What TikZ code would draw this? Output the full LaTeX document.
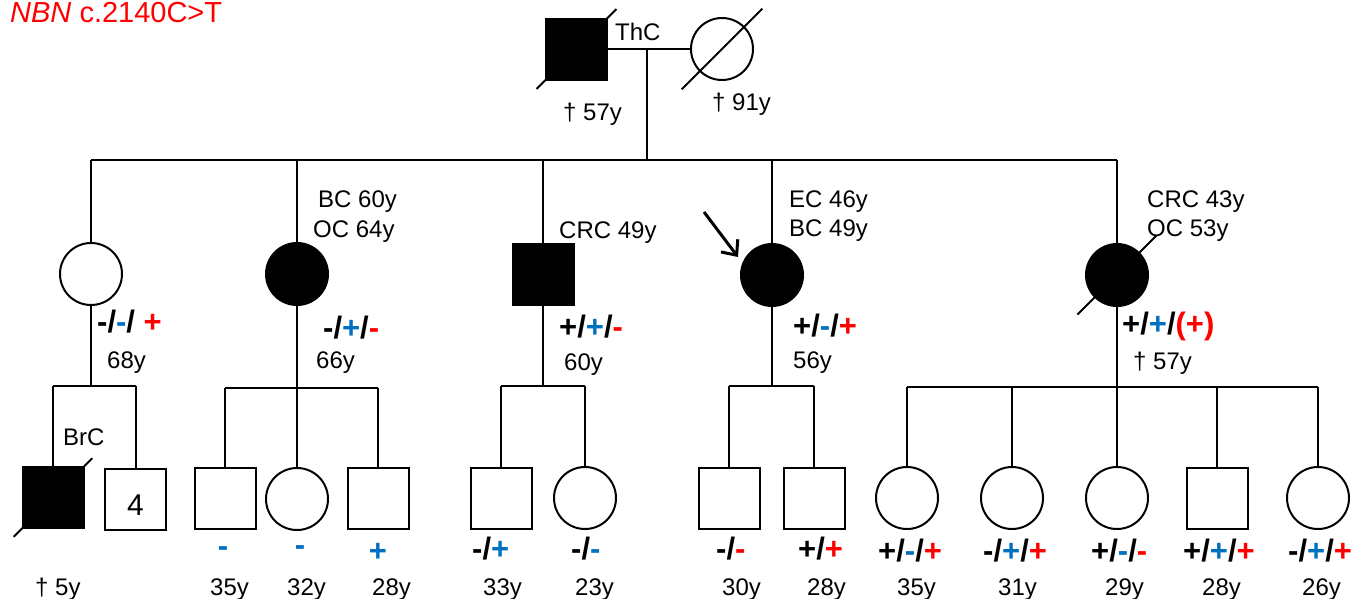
\documentclass[tikz,border=0pt]{standalone}
\usepackage{fontspec}
\setmainfont{Liberation Sans}
\usetikzlibrary{arrows.meta}
\definecolor{geneblue}{RGB}{0,112,192}
\definecolor{genered}{RGB}{255,0,0}
\newcommand{\gb}[1]{\textcolor{geneblue}{#1}}
\newcommand{\gr}[1]{\textcolor{genered}{#1}}
\tikzset{
  male/.style={draw, rectangle, minimum size=61pt, inner sep=0pt, line width=2pt},
  female/.style={draw, circle, minimum size=62pt, inner sep=0pt, line width=2pt},
  aff/.style={fill=black},
  lbl/.style={font=\fontsize{24}{28}\selectfont, anchor=base west, inner sep=0pt},
  geno/.style={font=\fontsize{31}{36}\selectfont\bfseries, anchor=base west, inner sep=0pt},
  pedline/.style={line width=2pt},
  deceased/.style={line width=2pt, shorten <=-#1, shorten >=-#1}}

\begin{document}
\begin{tikzpicture}[x=1pt, y=-1pt]
  \useasboundingbox (0,0) rectangle (1354,598);
  \node[lbl, text=genered, font=\fontsize{29}{32}\selectfont] (title) at (10,22) {\textit{NBN} c.2140C>T};

  % Generation I.
  \node[male, aff] (gf) at (576.5,49) {};
  \node[female] (gm) at (722,49) {};
  \draw[deceased=12pt] (gf.south west) -- (gf.north east);
  \draw[deceased=25pt] (gm.225) -- (gm.45);
  \draw[pedline] (gf.east) -- (gm.west);
  \node[lbl] (gfdx) at (615,40) {ThC};
  \node[lbl] (gfage) at (563,120) {† 57y};
  \node[lbl] (gmage) at (712,110) {† 91y};
  \coordinate (marr) at (647,49);
  \coordinate (sibII) at (647,160);

  % Generation II.
  \node[female] (p1) at (91,274) {};
  \node[female, aff] (p2) at (297,274) {};
  \node[male, aff] (p3) at (543,274) {};
  \node[female, aff] (p4) at (772,275) {};
  \node[female, aff] (p5) at (1117,275) {};
  \draw[deceased=24pt] (p5.225) -- (p5.45);
  \draw[pedline] (marr) -- (sibII);
  \draw[pedline] (p1 |- sibII) -- (p5 |- sibII);
  \foreach \p in {p1,p2,p3,p4,p5}
    \draw[pedline] (\p |- sibII) -- (\p.north);

  \node[lbl] (p2dxa) at (318,207) {BC 60y};
  \node[lbl] (p2dxb) at (313,237) {OC 64y};
  \node[lbl] (p3dx) at (559,238) {CRC 49y};
  \node[lbl] (p4dxa) at (789,207) {EC 46y};
  \node[lbl] (p4dxb) at (789,236) {BC 49y};
  \node[lbl] (p5dxa) at (1147,207) {CRC 43y};
  \node[lbl] (p5dxb) at (1147,236) {OC 53y};

  \node[geno] (p1g) at (97,332) {-/\gb{-}/ \gr{+}};
  \node[geno] (p2g) at (323,338) {-/\gb{+}/\gr{-}};
  \node[geno] (p3g) at (559,337) {+/\gb{+}/\gr{-}};
  \node[geno] (p4g) at (793,336) {+/\gb{-}/\gr{+}};
  \node[geno] (p5g) at (1122,334) {+/\gb{+}/\gr{(+)}};

  \node[lbl] (p1age) at (107,368) {68y};
  \node[lbl] (p2age) at (316,368) {66y};
  \node[lbl] (p3age) at (564,370) {60y};
  \node[lbl] (p4age) at (793,368) {56y};
  \node[lbl] (p5age) at (1133,369) {† 57y};

  % Proband arrow.
  \coordinate (arrtail) at (704,212);
  \coordinate (arrtip) at (738,257);
  \draw[line width=3pt, -{Straight Barb[length=12pt, width=21pt]}] (arrtail) -- (arrtip);

  % Generation III.
  \coordinate (sib1) at (91,386);
  \coordinate (sib2) at (297,388);
  \coordinate (sib3) at (543,386);
  \coordinate (sib4) at (772,386);
  \coordinate (sib5) at (1117,387);

  \node[male, aff] (c11) at (53,497.5) {};
  \node[male, font=\fontsize{30}{34}\selectfont, text height=33pt, text depth=0pt] (c12) at (135.5,499) {4};
  \draw[deceased=11pt] (c11.south west) -- (c11.north east);

  \node[male] (c21) at (225,498) {};
  \node[female] (c22) at (297,499) {};
  \node[male] (c23) at (378,498) {};

  \node[male] (c31) at (501,498) {};
  \node[female] (c32) at (585,498) {};

  \node[male] (c41) at (729,498) {};
  \node[male] (c42) at (814,498) {};

  \node[female] (c51) at (907,498) {};
  \node[female] (c52) at (1012,498) {};
  \node[female] (c53) at (1117,498) {};
  \node[male] (c54) at (1217,498) {};
  \node[female] (c55) at (1318,498) {};

  \draw[pedline] (p1.south) -- (sib1);
  \draw[pedline] (c11 |- sib1) -- (c12 |- sib1);
  \foreach \c in {c11,c12}
    \draw[pedline] (\c |- sib1) -- (\c.north);
  \draw[pedline] (p2.south) -- (sib2);
  \draw[pedline] (c21 |- sib2) -- (c23 |- sib2);
  \foreach \c in {c21,c22,c23}
    \draw[pedline] (\c |- sib2) -- (\c.north);
  \draw[pedline] (p3.south) -- (sib3);
  \draw[pedline] (c31 |- sib3) -- (c32 |- sib3);
  \foreach \c in {c31,c32}
    \draw[pedline] (\c |- sib3) -- (\c.north);
  \draw[pedline] (p4.south) -- (sib4);
  \draw[pedline] (c41 |- sib4) -- (c42 |- sib4);
  \foreach \c in {c41,c42}
    \draw[pedline] (\c |- sib4) -- (\c.north);
  \draw[pedline] (p5.south) -- (sib5);
  \draw[pedline] (c51 |- sib5) -- (c55 |- sib5);
  \foreach \c in {c51,c52,c53,c54,c55}
    \draw[pedline] (\c |- sib5) -- (\c.north);

  \node[lbl] (c11dx) at (63,445) {BrC};

  % Genotypes, generation III.
  \node[geno, anchor=base] (c21g) at (223,556) {\gb{-}};
  \node[geno, anchor=base] (c22g) at (300,555) {\gb{-}};
  \node[geno, anchor=base] (c23g) at (378,561) {\gb{+}};
  \node[geno] (c31g) at (472,559) {-/\gb{+}};
  \node[geno] (c32g) at (571,559) {-/\gb{-}};
  \node[geno] (c41g) at (716,559) {-/\gr{-}};
  \node[geno] (c42g) at (798,559) {+/\gr{+}};
  \node[geno] (c51g) at (878,561) {+/\gb{-}/\gr{+}};
  \node[geno] (c52g) at (983,561) {-/\gb{+}/\gr{+}};
  \node[geno] (c53g) at (1091,561) {+/\gb{-}/\gr{-}};
  \node[geno] (c54g) at (1183,561) {+/\gb{+}/\gr{+}};
  \node[geno] (c55g) at (1288,561) {-/\gb{+}/\gr{+}};

  % Ages, generation III.
  \node[lbl] (c11age) at (35,595) {† 5y};
  \node[lbl] (c21age) at (210,595) {35y};
  \node[lbl] (c22age) at (287,595) {32y};
  \node[lbl] (c23age) at (372,595) {28y};
  \node[lbl] (c31age) at (483,595) {33y};
  \node[lbl] (c32age) at (575,595) {23y};
  \node[lbl] (c41age) at (722,595) {30y};
  \node[lbl] (c42age) at (807,595) {28y};
  \node[lbl] (c51age) at (897,595) {35y};
  \node[lbl] (c52age) at (998,595) {31y};
  \node[lbl] (c53age) at (1105,595) {29y};
  \node[lbl] (c54age) at (1202,595) {28y};
  \node[lbl] (c55age) at (1302,595) {26y};
\end{tikzpicture}
\end{document}
